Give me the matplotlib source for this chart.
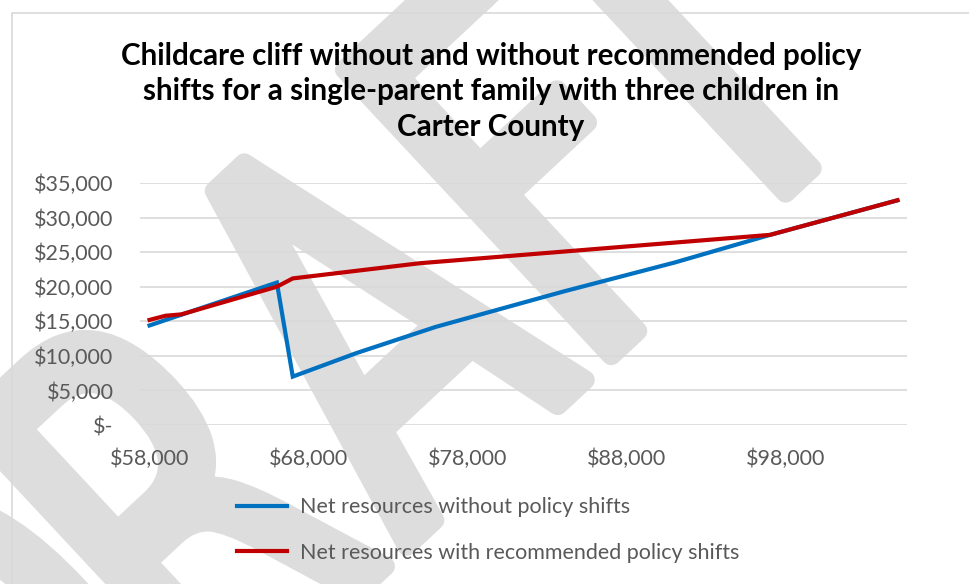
import numpy as np
import matplotlib
matplotlib.use("Agg")
import matplotlib.pyplot as plt
from matplotlib.patches import Rectangle, PathPatch
from matplotlib.textpath import TextPath
from matplotlib.font_manager import FontProperties
from matplotlib.transforms import Affine2D

plt.rcParams['font.family'] = ['Lato', 'DejaVu Sans']

# household income points and net resources ($)
income_without = [58000, 66000, 67000, 71000, 76000, 84000, 91000, 97000, 105000]
net_without = [14400, 20600, 7000, 10400, 14200, 19300, 23500, 27500, 32500]

income_with = [58000, 59000, 60000, 66000, 67000, 71000, 75000, 97000, 105000]
net_with = [15200, 15800, 16000, 20000, 21200, 22300, 23400, 27500, 32500]

x_ticks = [58000, 68000, 78000, 88000, 98000]
x_labels = ['$58,000', '$68,000', '$78,000', '$88,000', '$98,000']
y_ticks = [0, 5000, 10000, 15000, 20000, 25000, 30000, 35000]
y_labels = ['$-', '$5,000', '$10,000', '$15,000', '$20,000', '$25,000', '$30,000', '$35,000']

title = ("Childcare cliff without and without recommended policy\n"
         "shifts for a single-parent family with three children in\n"
         "Carter County")

grey_text = '#595959'
grid_col = '#d9d9d9'
wm_col = '#dddddd'

fig = plt.figure(figsize=(9.69, 5.84), dpi=100)
fig.patch.set_facecolor('white')

# condensed, rounded DRAFT watermark laid along a 43 degree baseline (pixel space)
fp = FontProperties(family='DejaVu Sans')
cap_em = TextPath((0, 0), 'H', size=1, prop=fp).get_extents().height
scale = 391 / cap_em
angle = 43
origin = np.array([496.0, 584 - 463.0])
along = np.array([np.cos(np.radians(angle)), np.sin(np.radians(angle))])
for ch, off in zip('DRAFT', [-502, -255, 0, 234, 414]):
    tp = TextPath((0, 0), ch, size=1, prop=fp)
    ext = tp.get_extents()
    pos = origin + off * along
    tr = (Affine2D().translate(-(ext.x0 + ext.x1) / 2, 0)
          .scale(0.68 * scale, scale).rotate_deg(angle).translate(*pos))
    fig.add_artist(PathPatch(tp, transform=tr, facecolor=wm_col, edgecolor=wm_col,
                             linewidth=14, joinstyle='round', zorder=-5))

# chart frame
fig.patches.append(Rectangle((12 / 969, -0.1), 1.2, 0.1 + (584 - 13) / 584,
                             transform=fig.transFigure, fill=False,
                             edgecolor=grid_col, linewidth=1.2, zorder=-1))

ax = fig.add_axes([140 / 969, 1 - 425 / 584, (907 - 140) / 969, (425 - 183) / 584])
ax.patch.set_alpha(0)

ax.plot(income_without, net_without, color='#0070C0', linewidth=3.0,
        solid_joinstyle='miter', label='Net resources without policy shifts', zorder=3)
ax.plot(income_with, net_with, color='#C00000', linewidth=3.0,
        solid_joinstyle='miter', label='Net resources with recommended policy shifts', zorder=4)

ax.set_xlim(57400, 105600)
ax.set_ylim(0, 35000)
ax.set_yticks(y_ticks)
ax.set_yticklabels(y_labels)
ax.set_xticks(x_ticks)
ax.set_xticklabels(x_labels)
ax.yaxis.grid(True, color=grid_col, linewidth=1.2)
ax.set_axisbelow(True)
for s in ax.spines.values():
    s.set_visible(False)
ax.tick_params(axis='both', length=0, labelsize=15.5, labelcolor=grey_text)
ax.tick_params(axis='y', pad=19)
ax.tick_params(axis='x', pad=17)

fig.text(491 / 969, 1 - 42 / 584, title, ha='center', va='top', fontsize=21.3,
         fontweight='bold', color='black', linespacing=1.32, zorder=5)

leg = fig.legend(loc='center left', bbox_to_anchor=(237 / 969, 1 - 530 / 584),
                 frameon=False, fontsize=15.5, handlelength=2.33, handletextpad=0.6,
                 labelspacing=1.19, borderpad=0, borderaxespad=0)
for t in leg.get_texts():
    t.set_color(grey_text)

fig.savefig('out.png', dpi=100, facecolor='white')
